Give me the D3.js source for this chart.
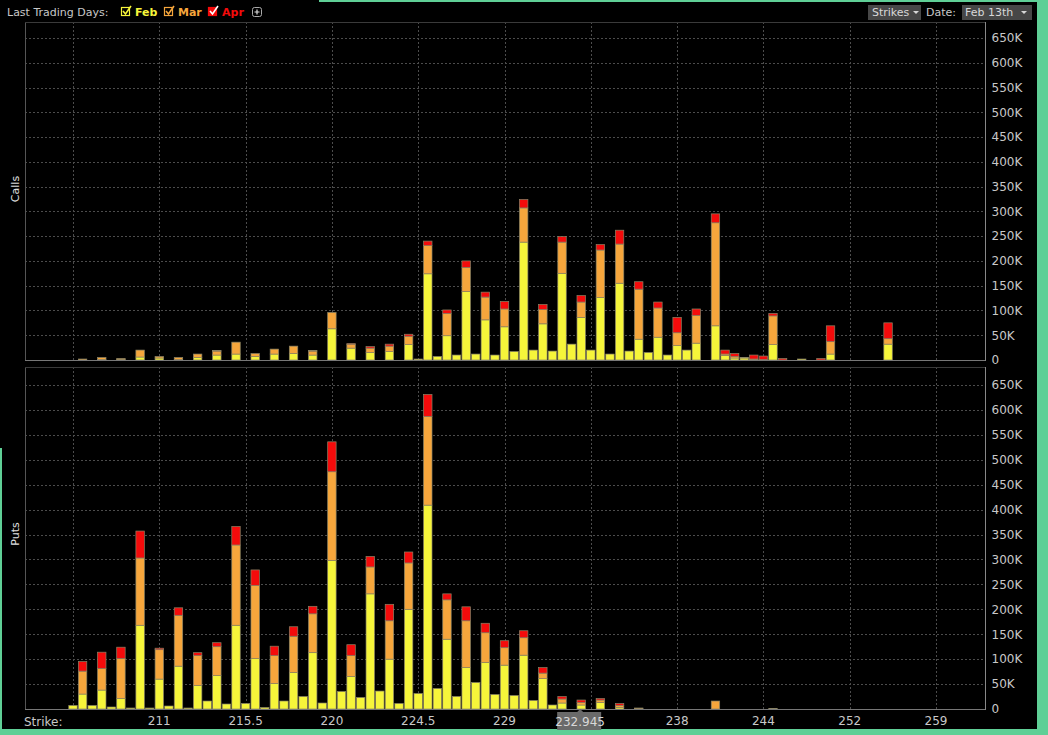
<!DOCTYPE html>
<html>
<head>
<meta charset="utf-8">
<script src="https://cdn.jsdelivr.net/npm/d3@7"></script>
<style>
  body { margin: 0; background: #000; }
  svg { display: block; font-family: "DejaVu Sans", sans-serif; }
</style>
</head>
<body>
<svg width="1048" height="735"></svg>
<script>
// strikes shown on the band axis (one bar slot each)
var strikes = ["206.5","207","207.5","208","208.5","209","209.5","210","210.5","211",
  "211.5","212","212.5","213","213.5","214","214.5","215","215.5","216",
  "216.5","217","217.5","218","218.5","219","219.5","220","220.5","221",
  "221.5","222","222.5","223","223.5","224","224.5","225","225.5","226",
  "226.5","227","227.5","228","228.5","229","229.5","230","230.5","231",
  "231.5","232","232.5","233","233.5","234","234.5","235","235.5","236",
  "236.5","237","237.5","238","238.5","239","239.5","240","240.5","241",
  "242","243","244","245","246","247","247.5","248","249","250",
  "251","252","252.5","253","254","255","256","257","257.5","258","259"];

var gridStrikes = ["206.5","211","215.5","220","224.5","229","233.5","238","244","252","259"];
var labeledStrikes = ["211","215.5","220","224.5","229","238","244","252","259"];
var yTicks = [0,50,100,150,200,250,300,350,400,450,500,550,600,650];
var underlying = "232.945";

// open interest, thousands
var callsFeb = [0,0,0,1,0,1,0,6,0,4, 0,1,0,5,0,10,0,12,0,7, 0,12,0,13,0,10,0,63,0,24,
  0,15,0,17,0,31,2,174,7,49, 10,138,12,81,10,67,17,238,20,73, 18,175,32,86,20,126,12,155,18,42,
  15,46,10,29,20,34,0,69,9,4, 4,1,1,31,0,0,2,0,0,12, 0,0,0,0,0,32,0,0,0,0,0];
var callsMar = [0,2,0,4,0,2,0,14,0,3, 0,4,0,7,0,8,0,24,0,6, 0,10,0,15,0,8,0,33,0,8,
  0,9,0,11,0,17,0,57,0,45, 0,49,0,46,0,36,0,69,0,29, 0,63,0,31,0,96,0,79,0,101,
  0,59,0,26,0,56,0,208,3,3, 1,1,0,58,0,0,0,0,0,25, 0,0,0,0,0,11,0,0,0,0,0];
var callsApr = [0,0,0,0,0,0,0,0,0,0, 0,0,0,0,0,1,0,0,0,0, 0,0,0,0,0,1,0,0,0,1,
  0,3,0,4,0,4,0,9,0,7, 0,13,0,10,0,15,0,17,0,10, 0,11,0,13,0,11,0,28,0,15,
  0,12,0,31,0,13,0,18,8,6, 0,8,7,5,3,0,0,0,3,32, 0,0,0,0,0,32,0,0,0,0,0];

var putsFeb = [7,30,7,38,4,21,2,168,2,60, 6,86,2,47,16,67,10,168,11,101, 3,51,16,73,25,113,12,298,35,65,
  23,231,36,100,11,200,31,409,41,140, 25,83,53,93,29,88,27,108,17,61, 8,12,0,8,0,13,0,3,0,1,
  0,0,0,0,0,0,0,0,0,0, 0,0,0,1,0,0,0,0,0,0, 0,0,0,0,0,0,0,0,0,0,0];
var putsMar = [0,46,0,43,0,80,0,135,0,59, 0,102,0,60,0,58,0,161,0,147, 0,56,0,73,0,78,0,178,0,42,
  0,54,0,77,0,93,0,178,0,79, 0,94,0,60,0,35,0,35,0,11, 0,8,0,5,0,5,0,4,0,1,
  0,0,0,0,0,0,0,16,0,0, 0,0,0,0,0,0,0,0,0,0, 0,0,0,0,0,0,0,0,0,0,0];
var putsApr = [0,19,0,33,0,23,0,54,0,3, 0,15,0,6,0,8,0,37,0,31, 0,19,0,19,0,15,0,60,0,22,
  0,21,0,33,0,22,0,44,0,12, 0,28,0,19,0,14,0,14,0,11, 0,5,0,5,0,3,0,4,0,0,
  0,0,0,0,0,0,0,0,0,0, 0,0,0,0,0,0,0,0,0,0, 0,0,0,0,0,0,0,0,0,0,0];

var colors = { feb: "#f6f53a", mar: "#f6a63c", apr: "#f40b0b" };
var keys = ["feb", "mar", "apr"];

var svg = d3.select("svg");
var plotLeft = 25, plotRight = 985;

var x = d3.scaleBand()
    .domain(strikes)
    .range([68.2, 940.8])
    .paddingInner(0.12)
    .paddingOuter(0.06);

function rows(feb, mar, apr) {
  return strikes.map(function(s, i) {
    return { strike: s, feb: feb[i], mar: mar[i], apr: apr[i] };
  });
}

var panels = [
  { name: "Calls", top: 22, zero: 360, max: 38, data: rows(callsFeb, callsMar, callsApr), labelY: 189 },
  { name: "Puts", top: 367, zero: 709, max: 385, data: rows(putsFeb, putsMar, putsApr), labelY: 534 }
];

// green frame of the screenshot
svg.append("rect").attr("x", 1037).attr("y", 0).attr("width", 11).attr("height", 735).attr("fill", "#5fcf96");
svg.append("rect").attr("x", 0).attr("y", 729).attr("width", 1048).attr("height", 6).attr("fill", "#5fcf96");
svg.append("rect").attr("x", 0).attr("y", 448).attr("width", 2).attr("height", 287).attr("fill", "#5fcf96");
svg.append("rect").attr("x", 319).attr("y", 0).attr("width", 729).attr("height", 2).attr("fill", "#5fcf96");

panels.forEach(function(p) {
  var y = d3.scaleLinear().domain([0, 650]).range([p.zero, p.max]);
  var g = svg.append("g");

  // horizontal grid
  g.selectAll(".hgrid")
    .data(yTicks.filter(function(d) { return d > 0; }))
    .enter().append("line")
      .attr("x1", plotLeft).attr("x2", plotRight)
      .attr("y1", function(d) { return Math.round(y(d)) + 0.5; })
      .attr("y2", function(d) { return Math.round(y(d)) + 0.5; })
      .attr("stroke", "#4c4c4c")
      .attr("stroke-dasharray", "2,2");

  // vertical grid
  g.selectAll(".vgrid")
    .data(gridStrikes)
    .enter().append("line")
      .attr("x1", function(d) { return Math.round(x(d) + x.bandwidth() / 2) + 0.5; })
      .attr("x2", function(d) { return Math.round(x(d) + x.bandwidth() / 2) + 0.5; })
      .attr("y1", p.top).attr("y2", p.zero)
      .attr("stroke", "#4c4c4c")
      .attr("stroke-dasharray", "2,2");

  // stacked bars
  var series = d3.stack().keys(keys)(p.data);
  g.selectAll(".layer")
    .data(series)
    .enter().append("g")
      .attr("fill", function(d) { return colors[d.key]; })
    .selectAll("rect")
    .data(function(d) { return d.filter(function(v) { return v[1] - v[0] > 0; }); })
    .enter().append("rect")
      .attr("x", function(d) { return x(d.data.strike); })
      .attr("width", x.bandwidth())
      .attr("y", function(d) { return y(d[1]); })
      .attr("height", function(d) { return y(d[0]) - y(d[1]); })
      .attr("stroke", "#8a8466")
      .attr("stroke-width", 0.7);

  // frame
  g.append("line").attr("x1", plotLeft + 0.5).attr("x2", plotLeft + 0.5)
    .attr("y1", p.top).attr("y2", p.zero).attr("stroke", "#555");
  g.append("line").attr("x1", plotLeft).attr("x2", plotRight)
    .attr("y1", p.top + 0.5).attr("y2", p.top + 0.5).attr("stroke", "#3a3a3a");
  g.append("line").attr("x1", plotLeft).attr("x2", plotRight)
    .attr("y1", p.zero + 0.5).attr("y2", p.zero + 0.5).attr("stroke", "#777");

  // right value axis
  var yAxis = d3.axisRight(y)
      .tickValues(yTicks)
      .tickFormat(function(d) { return d ? d + "K" : "0"; })
      .tickSize(0)
      .tickPadding(6);
  var ag = g.append("g")
      .attr("transform", "translate(" + (plotRight + 0.5) + ",0)")
      .call(yAxis);
  ag.select(".domain").attr("stroke", "#888").attr("d", "M0," + p.top + "V" + (p.zero + 1));
  ag.selectAll("text")
      .attr("fill", "#c8c8c8")
      .style("font-size", "12px")
      .style("font-family", "DejaVu Sans, sans-serif");

  // panel title
  g.append("text")
    .attr("transform", "translate(19," + p.labelY + ") rotate(-90)")
    .attr("text-anchor", "middle")
    .attr("fill", "#e0e0e0")
    .style("font-size", "11px")
    .text(p.name);
});

// strike axis
var xAxis = d3.axisBottom(x)
    .tickValues(labeledStrikes)
    .tickSize(0)
    .tickPadding(7);
var xg = svg.append("g")
    .attr("transform", "translate(0,709)")
    .call(xAxis);
xg.select(".domain").remove();
xg.selectAll("text")
    .attr("fill", "#c8c8c8")
    .style("font-size", "12px")
    .style("font-family", "DejaVu Sans, sans-serif");

svg.append("text")
    .attr("x", 24).attr("y", 726)
    .attr("fill", "#c8c8c8")
    .style("font-size", "12px")
    .text("Strike:");

// underlying price marker
var ux = x("232.5") + x.bandwidth() / 2 + (232.945 - 232.5) / 0.5 * x.step();
svg.append("rect")
    .attr("x", ux - 23).attr("y", 712).attr("width", 44).attr("height", 18)
    .attr("fill", "#6a6a6a");
svg.append("path")
    .attr("d", "M" + (ux - 3) + ",712L" + ux + ",709L" + (ux + 3) + ",712Z")
    .attr("fill", "#6a6a6a");
svg.append("text")
    .attr("x", ux).attr("y", 726)
    .attr("text-anchor", "middle")
    .attr("fill", "#d8d8d8")
    .style("font-size", "12px")
    .text(underlying);

// header
var header = svg.append("g").style("font-size", "11px");
header.append("text").attr("x", 7).attr("y", 16).attr("fill", "#c8c8c8").text("Last Trading Days:");

var months = [
  { label: "Feb", key: "feb", bx: 121, tx: 135 },
  { label: "Mar", key: "mar", bx: 164, tx: 178 },
  { label: "Apr", key: "apr", bx: 208, tx: 222 }
];
months.forEach(function(m) {
  var c = colors[m.key];
  header.append("rect")
    .attr("x", m.bx + 0.5).attr("y", 7.5).attr("width", 8).attr("height", 8)
    .attr("fill", m.key === "apr" ? c : "none")
    .attr("stroke", c).attr("stroke-width", 1.2);
  header.append("path")
    .attr("d", "M" + (m.bx + 2) + ",11L" + (m.bx + 4.5) + ",14L" + (m.bx + 10) + ",6")
    .attr("fill", "none")
    .attr("stroke", m.key === "apr" ? "#fff" : c)
    .attr("stroke-width", 1.6);
  header.append("text")
    .attr("x", m.tx).attr("y", 16)
    .attr("fill", c)
    .style("font-weight", "bold")
    .text(m.label);
});
header.append("rect")
  .attr("x", 252.5).attr("y", 7.5).attr("width", 9).attr("height", 9).attr("rx", 2)
  .attr("fill", "none").attr("stroke", "#aaa");
header.append("path")
  .attr("d", "M254.5,12H259.5M257,9.5V14.5")
  .attr("stroke", "#ddd").attr("stroke-width", 1.2);

// right controls
header.append("rect").attr("x", 868).attr("y", 5).attr("width", 53).attr("height", 15).attr("fill", "#474747");
header.append("text").attr("x", 872).attr("y", 16).attr("fill", "#d8d8d8").text("Strikes");
header.append("path").attr("d", "M913,11L919,11L916,14Z").attr("fill", "#d8d8d8");
header.append("text").attr("x", 926).attr("y", 16).attr("fill", "#c8c8c8").text("Date:");
header.append("rect").attr("x", 962).attr("y", 5).attr("width", 70).attr("height", 15).attr("fill", "#474747");
header.append("text").attr("x", 965).attr("y", 16).attr("fill", "#d8d8d8").text("Feb 13th");
header.append("path").attr("d", "M1021,11L1027,11L1024,14Z").attr("fill", "#d8d8d8");
</script>
</body>
</html>
